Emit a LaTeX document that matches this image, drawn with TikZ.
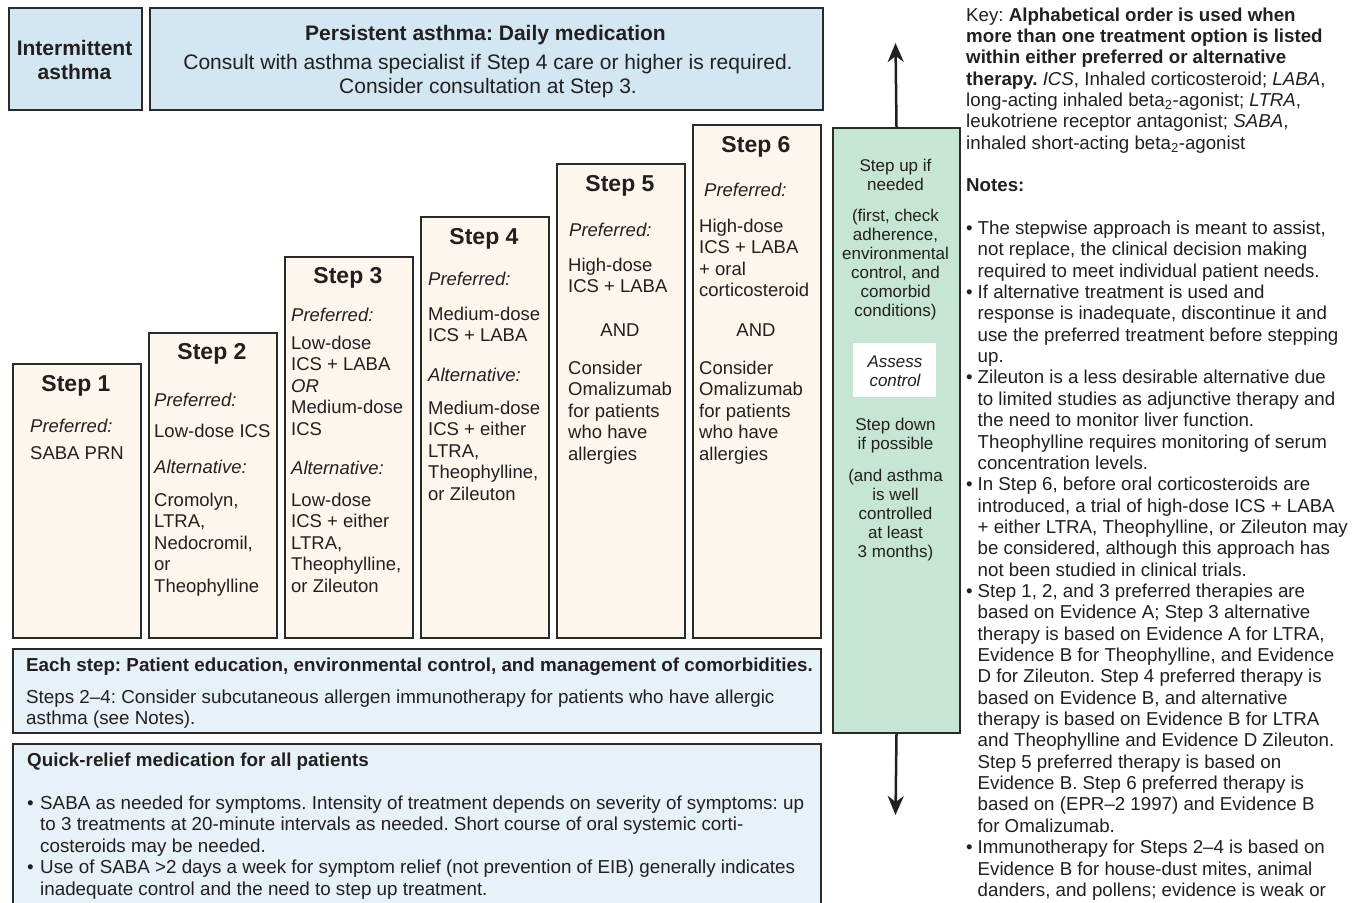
\documentclass[tikz,border=0pt]{standalone}
\usepackage{fontspec}
\setmainfont{Liberation Sans}
\usetikzlibrary{arrows.meta}
\definecolor{topblue}{HTML}{D3E7F2}
\definecolor{lightblue}{HTML}{E7F1F8}
\definecolor{cream}{HTML}{FDF6EC}
\definecolor{mint}{HTML}{C7E5D5}
\definecolor{edge}{HTML}{2A2A2A}
\definecolor{ink}{HTML}{231F20}
\frenchspacing
\newcommand\mybody{\fontsize{18.5}{21.5}\selectfont}
\newcommand\mynotes{\fontsize{18.7}{21.35}\selectfont}
\newcommand\mybottom{\fontsize{18.8}{21.5}\selectfont}
\newcommand\mytitle{\fontsize{23}{26}\selectfont\bfseries}
\newcommand\mytop{\fontsize{21}{24}\selectfont}
\newcommand\mygreen{\fontsize{17}{19}\selectfont}
\newcommand\myb{\makebox[11.5pt][l]{\textbullet}}
\newcommand\myi{\hspace*{11.5pt}}
\newcommand\myqb{\makebox[13pt][l]{\textbullet}}
\newcommand\myqi{\hspace*{13pt}}
\newcommand\mtl[1]{\begin{tabular}[t]{@{}l@{}}#1\end{tabular}}
\newcommand\mtc[1]{\begin{tabular}[t]{@{}c@{}}#1\end{tabular}}
\begin{document}
\begin{tikzpicture}[x=1pt,y=-1pt,
 box/.style={draw=edge,line width=2pt,inner sep=0pt,anchor=north west},
 stepbox/.style={box,fill=cream,minimum width=128pt},
 txt/.style={anchor=base west,inner sep=0pt,font=\mybody,text=ink},
 ctxt/.style={anchor=base,inner sep=0pt,text=ink},
 title/.style={anchor=base,inner sep=0pt,font=\mytitle,text=ink},
 arr/.style={draw=ink,line width=2.5pt,-{Stealth[length=19pt,width=16pt,inset=6pt]}}]
\useasboundingbox (0,0) rectangle (1359,902);
\clip (0,0) rectangle (1359,902);
\fill[white] (0,0) rectangle (1359,902);

% top boxes
\node[box,fill=topblue,minimum width=133pt,minimum height=102pt] (inter) at (8,7) {};
\node[box,fill=topblue,minimum width=673pt,minimum height=102pt] (pers) at (149,7) {};
\node[ctxt,font=\mytop\bfseries] (intert) at (74.5,55) {\mtc{Intermittent\\asthma}};
\node[ctxt,font=\mytop\bfseries] (perst) at (485.5,40) {Persistent asthma: Daily medication};
\node[ctxt,font=\mytop] (persb) at (488,69) {\mtc{Consult with asthma specialist if Step 4 care or higher is required.\\Consider consultation at Step 3.}};

% step boxes
\node[stepbox,minimum height=274pt] (s1) at (12,363) {};
\node[stepbox,minimum height=305pt] (s2) at (148,332) {};
\node[stepbox,minimum height=381pt] (s3) at (284,256) {};
\node[stepbox,minimum height=421pt] (s4) at (420,216) {};
\node[stepbox,minimum height=474pt] (s5) at (556,163) {};
\node[stepbox,minimum height=513pt] (s6) at (692,124) {};

% step 1
\node[title] (t1) at (76,391) {Step 1};
\node[txt] (p1) at (30,432) {\itshape Preferred:};
\node[txt] (p1a) at (30,459) {SABA PRN};
% step 2
\node[title] (t2) at (212,359) {Step 2};
\node[txt] (p2) at (154,406) {\itshape Preferred:};
\node[txt] (p2a) at (154,437) {Low-dose ICS};
\node[txt] (a2) at (154,473) {\itshape Alternative:};
\node[txt] (a2a) at (154,506) {\mtl{Cromolyn,\\LTRA,\\Nedocromil,\\or\\Theophylline}};
% step 3
\node[title] (t3) at (348,283) {Step 3};
\node[txt] (p3) at (291,321) {\itshape Preferred:};
\node[txt] (p3a) at (291,349) {\mtl{Low-dose\\ICS + LABA\\\textit{OR}\\Medium-dose\\ICS}};
\node[txt] (a3) at (291,474) {\itshape Alternative:};
\node[txt] (a3a) at (291,506) {\mtl{Low-dose\\ICS + either\\LTRA,\\Theophylline,\\or Zileuton}};
% step 4
\node[title] (t4) at (484,244) {Step 4};
\node[txt] (p4) at (428,285) {\itshape Preferred:};
\node[txt] (p4a) at (428,320) {\mtl{Medium-dose\\ICS + LABA}};
\node[txt] (a4) at (428,381) {\itshape Alternative:};
\node[txt] (a4a) at (428,414) {\mtl{Medium-dose\\ICS + either\\LTRA,\\Theophylline,\\or Zileuton}};
% step 5
\node[title] (t5) at (620,191) {Step 5};
\node[txt] (p5) at (569,236) {\itshape Preferred:};
\node[txt] (p5a) at (568,271) {\mtl{High-dose\\ICS + LABA}};
\node[ctxt,font=\mybody] (and5) at (620,336) {AND};
\node[txt] (c5) at (568,374) {\mtl{Consider\\Omalizumab\\for patients\\who have\\allergies}};
% step 6
\node[title] (t6) at (756,152) {Step 6};
\node[txt] (p6) at (704,196) {\itshape Preferred:};
\node[txt] (p6a) at (699,232) {\mtl{High-dose\\ICS + LABA\\+ oral\\corticosteroid}};
\node[ctxt,font=\mybody] (and6) at (756,336) {AND};
\node[txt] (c6) at (699,374) {\mtl{Consider\\Omalizumab\\for patients\\who have\\allergies}};

% green column
\node[box,fill=mint,minimum width=127pt,minimum height=605pt] (green) at (832,127) {};
\coordinate (uptip) at (895.5,43);
\coordinate (downtip) at (895.5,815);
\draw[arr] (green.north) -- (uptip);
\draw[arr] (green.south) -- (downtip);
\node[ctxt,font=\mygreen] (g1) at (895.5,171.5) {\mtc{Step up if\\needed}};
\node[ctxt,font=\mygreen] (g2) at (895.5,221.5) {\mtc{(first, check\\adherence,\\environmental\\control, and\\comorbid\\conditions)}};
\node[anchor=north west,fill=white,inner sep=0pt,minimum width=83pt,minimum height=54pt] (assess) at (853,343) {};
\node[ctxt,font=\mygreen\itshape] (assesst) at (895,367.5) {\mtc{Assess\\control}};
\node[ctxt,font=\mygreen] (g3) at (895.5,430.5) {\mtc{Step down\\if possible}};
\node[ctxt,font=\mygreen] (g4) at (895.5,481.5) {\mtc{(and asthma\\is well\\controlled\\at least\\3 months)}};

% bottom boxes
\node[box,fill=lightblue,minimum width=808pt,minimum height=84pt] (each) at (12,648) {};
\node[txt,font=\mybottom] (eacht) at (26,671) {\bfseries Each step: Patient education, environmental control, and management of comorbidities.};
\node[txt,font=\mybottom] (eachb) at (26,703) {\mtl{Steps 2–4: Consider subcutaneous allergen immunotherapy for patients who have allergic\\asthma (see Notes).}};
\node[box,fill=lightblue,minimum width=808pt,minimum height=180pt] (quick) at (12,743) {};
\node[txt,font=\mybottom] (quickt) at (27,766) {\bfseries Quick-relief medication for all patients};
\node[txt,font=\mybottom] (quickb) at (27,809) {\mtl{\myqb SABA as needed for symptoms. Intensity of treatment depends on severity of symptoms: up\\
\myqi to 3 treatments at 20-minute intervals as needed. Short course of oral systemic corti-\\
\myqi costeroids may be needed.\\
\myqb Use of SABA >2 days a week for symptom relief (not prevention of EIB) generally indicates\\
\myqi inadequate control and the need to step up treatment.}};

% key and notes
\node[txt,font=\mynotes] (key) at (966,21) {\mtl{Key: \textbf{Alphabetical order is used when}\\
\textbf{more than one treatment option is listed}\\
\textbf{within either preferred or alternative}\\
\textbf{therapy.} \textit{ICS}, Inhaled corticosteroid; \textit{LABA},\\
long-acting inhaled beta\textsubscript{2}-agonist; \textit{LTRA},\\
leukotriene receptor antagonist; \textit{SABA},\\
inhaled short-acting beta\textsubscript{2}-agonist\\
\\
\textbf{Notes:}\\
\\
\myb The stepwise approach is meant to assist,\\
\myi not replace, the clinical decision making\\
\myi required to meet individual patient needs.\\
\myb If alternative treatment is used and\\
\myi response is inadequate, discontinue it and\\
\myi use the preferred treatment before stepping\\
\myi up.\\
\myb Zileuton is a less desirable alternative due\\
\myi to limited studies as adjunctive therapy and\\
\myi the need to monitor liver function.\\
\myi Theophylline requires monitoring of serum\\
\myi concentration levels.\\
\myb In Step 6, before oral corticosteroids are\\
\myi introduced, a trial of high-dose ICS + LABA\\
\myi + either LTRA, Theophylline, or Zileuton may\\
\myi be considered, although this approach has\\
\myi not been studied in clinical trials.\\
\myb Step 1, 2, and 3 preferred therapies are\\
\myi based on Evidence A; Step 3 alternative\\
\myi therapy is based on Evidence A for LTRA,\\
\myi Evidence B for Theophylline, and Evidence\\
\myi D for Zileuton. Step 4 preferred therapy is\\
\myi based on Evidence B, and alternative\\
\myi therapy is based on Evidence B for LTRA\\
\myi and Theophylline and Evidence D Zileuton.\\
\myi Step 5 preferred therapy is based on\\
\myi Evidence B. Step 6 preferred therapy is\\
\myi based on (EPR–2 1997) and Evidence B\\
\myi for Omalizumab.\\
\myb Immunotherapy for Steps 2–4 is based on\\
\myi Evidence B for house-dust mites, animal\\
\myi danders, and pollens; evidence is weak or}};
\end{tikzpicture}
\end{document}
